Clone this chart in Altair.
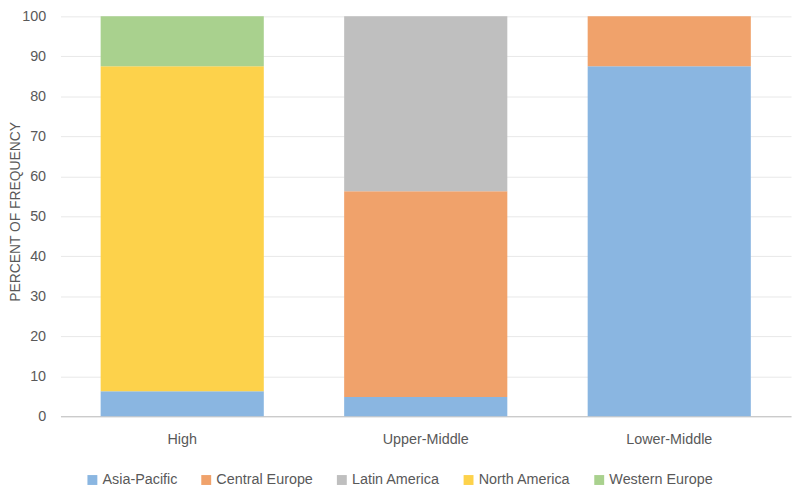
import altair as alt
import pandas as pd

income = ["High", "Upper-Middle", "Lower-Middle"]
regions = ["Asia-Pacific", "Central Europe", "Latin America", "North America", "Western Europe"]
colors = ["#8AB6E1", "#F0A26B", "#BFBFBF", "#FDD24B", "#A9D18E"]

# percent of frequency per income group, in region order
high = [6.25, 0, 0, 81.25, 12.5]
upper_middle = [4.8, 51.5, 43.7, 0, 0]
lower_middle = [87.5, 12.5, 0, 0, 0]

rows = []
for grp, vals in zip(income, [high, upper_middle, lower_middle]):
    for i, (r, v) in enumerate(zip(regions, vals)):
        rows.append({"Income": grp, "Region": r, "Percent": v, "ord": i})
df = pd.DataFrame(rows)

FONT = "Liberation Sans"
GRAY = "#595959"

chart = alt.Chart(df).mark_bar().encode(
    x=alt.X("Income:N", sort=income,
            scale=alt.Scale(paddingInner=0.33, paddingOuter=0.165),
            axis=alt.Axis(title=None, labelAngle=0, ticks=False, labelPadding=17,
                          domainColor="#BFBFBF", domainWidth=1.2,
                          labelFont=FONT, labelFontSize=14.5, labelColor=GRAY)),
    y=alt.Y("Percent:Q", stack="zero",
            scale=alt.Scale(domain=[0, 100], nice=False),
            axis=alt.Axis(title="PERCENT OF FREQUENCY", values=list(range(0, 101, 10)),
                          ticks=False, domain=False, labelPadding=15,
                          gridColor="#E8E8E8", gridWidth=1,
                          labelFont=FONT, labelFontSize=14.5, labelColor=GRAY,
                          titleFont=FONT, titleFontSize=14, titleFontWeight="normal",
                          titleColor=GRAY, titleX=-45, titleY=197, titleAngle=-90,
                          titleBaseline="middle", titleAlign="center")),
    color=alt.Color("Region:N", sort=regions,
                    scale=alt.Scale(domain=regions, range=colors),
                    legend=alt.Legend(title=None, orient="none", direction="horizontal",
                                      legendX=25, legendY=461, symbolType="square",
                                      symbolSize=100, symbolStrokeWidth=0,
                                      labelOffset=3, columnPadding=21,
                                      labelFont=FONT, labelFontSize=14.5, labelColor=GRAY)),
    order=alt.Order("ord:Q", sort="ascending"),
).properties(
    width=738, height=404,
    padding={"left": 53, "top": 6, "right": 1, "bottom": 70},
    autosize=alt.AutoSizeParams(type="none"),
).configure_view(stroke=None)

chart.save("out.html", embed_options={"renderer": "svg", "actions": False})
